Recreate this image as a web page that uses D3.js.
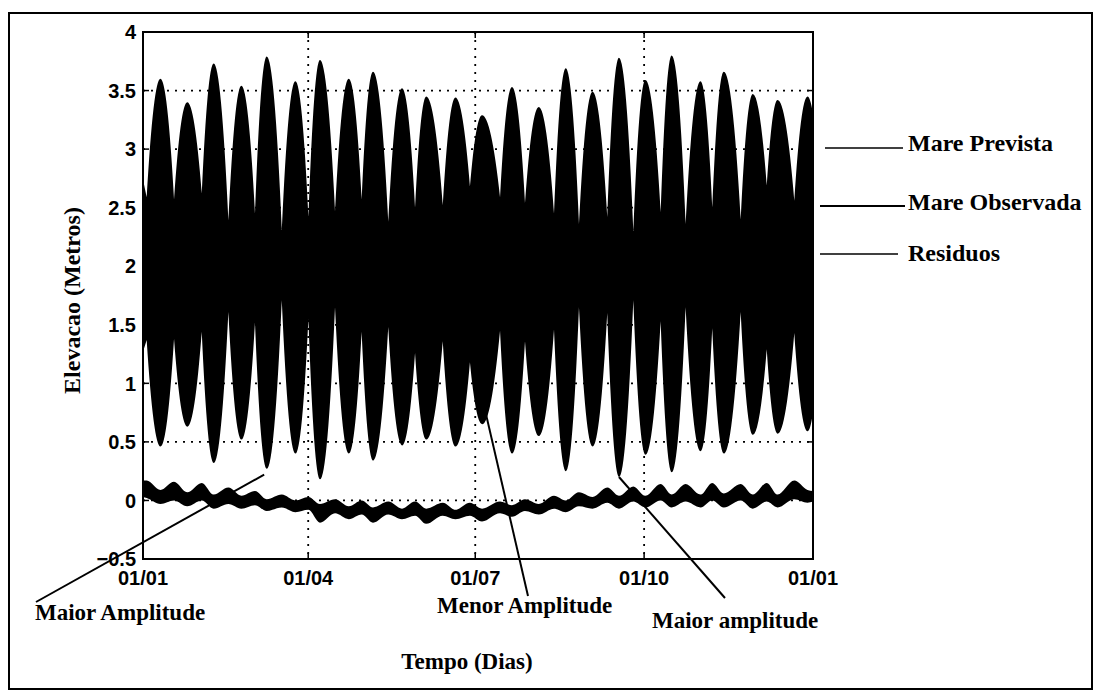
<!DOCTYPE html>
<html>
<head>
<meta charset="utf-8">
<script src="https://cdn.jsdelivr.net/npm/d3@7"></script>
<style>
  body { margin: 0; background: #fff; }
  svg { display: block; }
  .sans  { font-family: "Liberation Sans", Arial, sans-serif; font-weight: bold; }
  .serif { font-family: "Liberation Serif", "Times New Roman", serif; font-weight: bold; }
</style>
</head>
<body>
<svg id="chart" width="1101" height="698"></svg>
<script>
// Tide envelope vertices over one year: day of year at each spring / neap tide
const tideDays = [0, 2.0, 9.5, 16.9, 24.1, 32.0, 38.5, 46.5, 53.6, 61.0, 67.4, 75.6, 83.0,
  90.1, 96.4, 104.6, 112.1, 119.1, 125.3, 133.6, 141.1, 148.2, 154.3, 163.3, 170.2, 178.1,
  184.7, 194.5, 201.0, 208.1, 215.6, 223.9, 230.3, 237.5, 244.9, 252.9, 259.3, 267.1, 273.7,
  282.0, 288.0, 295.6, 303.7, 310.1, 316.4, 325.6, 332.2, 339.8, 345.7, 354.8, 362.0, 365];

// High-water envelope (metres)
const tideHigh = [2.74, 2.59, 3.60, 2.57, 3.40, 2.62, 3.73, 2.39, 3.54, 2.45, 3.79, 2.31, 3.58,
  2.42, 3.76, 2.47, 3.60, 2.57, 3.66, 2.38, 3.52, 2.50, 3.45, 2.52, 3.44, 2.68,
  3.29, 2.59, 3.53, 2.54, 3.36, 2.45, 3.69, 2.36, 3.49, 2.42, 3.78, 2.30, 3.59,
  2.46, 3.80, 2.36, 3.58, 2.50, 3.66, 2.40, 3.47, 2.69, 3.42, 2.56, 3.45, 3.30];

// Low-water envelope (metres)
const tideLow = [1.27, 1.37, 0.46, 1.38, 0.63, 1.44, 0.32, 1.61, 0.52, 1.52, 0.27, 1.71, 0.40,
  1.55, 0.18, 1.65, 0.40, 1.44, 0.34, 1.48, 0.47, 1.26, 0.52, 1.36, 0.46, 1.18,
  0.65, 1.45, 0.40, 1.36, 0.55, 1.46, 0.25, 1.65, 0.46, 1.60, 0.20, 1.71, 0.39,
  1.53, 0.24, 1.65, 0.42, 1.47, 0.40, 1.61, 0.56, 1.29, 0.57, 1.43, 0.59, 0.75];

// Residual band (observed minus predicted), upper and lower edge, same days
const residTop = [0.17, 0.17, 0.09, 0.16, 0.07, 0.15, 0.05, 0.11, 0.04, 0.08, 0.01, 0.05, 0.00,
  0.03, -0.03, 0.01, -0.05, 0.00, -0.06, -0.01, -0.07, -0.01, -0.07, -0.02, -0.08, -0.02,
  -0.07, -0.01, -0.04, 0.01, -0.03, 0.04, 0.00, 0.07, 0.03, 0.11, 0.04, 0.12, 0.04,
  0.14, 0.05, 0.14, 0.05, 0.15, 0.06, 0.14, 0.05, 0.15, 0.05, 0.17, 0.09, 0.08];
const residBottom = [0.03, 0.02, -0.03, 0.00, -0.05, 0.00, -0.07, -0.03, -0.07, -0.04, -0.09, -0.06, -0.10,
  -0.08, -0.19, -0.11, -0.16, -0.12, -0.19, -0.12, -0.16, -0.13, -0.20, -0.13, -0.16, -0.13,
  -0.18, -0.11, -0.14, -0.09, -0.12, -0.07, -0.10, -0.05, -0.07, -0.02, -0.07, -0.01, -0.06,
  0.00, -0.06, -0.01, -0.06, 0.00, -0.06, 0.00, -0.07, -0.01, -0.06, 0.01, -0.02, -0.01];

// Axis ticks
const xTickDays   = [0, 90, 181, 273, 365];
const xTickLabels = ["01/01", "01/04", "01/07", "01/10", "01/01"];
const yTicks      = [-0.5, 0, 0.5, 1, 1.5, 2, 2.5, 3, 3.5, 4];

// Series names written at the right of the axes
const seriesNames = ["Mare Prevista", "Mare Observada", "Residuos"];

// Callouts: text and the tide (day, metres) each one points at
const calloutTexts  = ["Maior Amplitude", "Menor Amplitude", "Maior amplitude"];
const calloutDays   = [66.0, 181.5, 259.3];
const calloutValues = [0.22, 1.10, 0.20];

// ---------------------------------------------------------------------------
const svg = d3.select("#chart");
const plot = { left: 143, right: 813, top: 32, bottom: 559 };

const x = d3.scaleLinear().domain([0, 365]).range([plot.left, plot.right]);
const y = d3.scaleLinear().domain([-0.5, 4]).range([plot.bottom, plot.top]);

// outer figure frame
svg.append("rect")
  .attr("x", 9).attr("y", 13).attr("width", 1083).attr("height", 676)
  .attr("fill", "none").attr("stroke", "#000").attr("stroke-width", 2);

const clipId = "plotClip";
svg.append("clipPath").attr("id", clipId).append("rect")
  .attr("x", plot.left).attr("y", plot.top)
  .attr("width", plot.right - plot.left).attr("height", plot.bottom - plot.top);

// dotted grid
const grid = svg.append("g").attr("stroke", "#000").attr("stroke-width", 1.8)
  .attr("stroke-dasharray", "2,6");
grid.selectAll("line.h").data(yTicks.slice(1, -1)).join("line").attr("class", "h")
  .attr("x1", plot.left).attr("x2", plot.right)
  .attr("y1", d => y(d)).attr("y2", d => y(d));
grid.selectAll("line.v").data(xTickDays.slice(1, -1)).join("line").attr("class", "v")
  .attr("y1", plot.top).attr("y2", plot.bottom)
  .attr("x1", d => x(d)).attr("x2", d => x(d));

// tide band: rounded at spring tides, cusped at neap tides
const n = tideDays.length;
const pts = tideDays.map((d, i) => ({
  x: x(d),
  hi: y(tideHigh[i]),
  lo: y(tideLow[i]),
  spring: i > 0 && i < n - 1 && tideHigh[i] > tideHigh[i - 1] && tideHigh[i] > tideHigh[i + 1]
}));
function segment(p, a, b, key) {
  if (b.spring) p.quadraticCurveTo((a.x + b.x) / 2, b[key], b.x, b[key]);
  else if (a.spring) p.quadraticCurveTo((a.x + b.x) / 2, a[key], b.x, b[key]);
  else p.lineTo(b.x, b[key]);
}
const tidePath = d3.path();
tidePath.moveTo(pts[0].x, pts[0].hi);
for (let i = 1; i < n; i++) segment(tidePath, pts[i - 1], pts[i], "hi");
tidePath.lineTo(pts[n - 1].x, pts[n - 1].lo);
for (let i = n - 2; i >= 0; i--) segment(tidePath, pts[i + 1], pts[i], "lo");
tidePath.closePath();

const data = svg.append("g").attr("clip-path", `url(#${clipId})`);
data.append("path").attr("d", tidePath.toString()).attr("fill", "#000");

// residual band
const resid = tideDays.map((d, i) => ({ d, t: residTop[i], b: residBottom[i] }));
data.append("path")
  .datum(resid)
  .attr("fill", "#000")
  .attr("d", d3.area().x(r => x(r.d)).y0(r => y(r.b)).y1(r => y(r.t)).curve(d3.curveMonotoneX));

// axes box and inward ticks
const axes = svg.append("g").attr("stroke", "#000");
axes.append("rect")
  .attr("x", plot.left).attr("y", plot.top)
  .attr("width", plot.right - plot.left).attr("height", plot.bottom - plot.top)
  .attr("fill", "none").attr("stroke-width", 2);
const tl = 6;
axes.selectAll("line.yl").data(yTicks).join("line").attr("class", "yl")
  .attr("x1", plot.left).attr("x2", plot.left + tl)
  .attr("y1", d => y(d)).attr("y2", d => y(d)).attr("stroke-width", 1.5);
axes.selectAll("line.yr").data(yTicks).join("line").attr("class", "yr")
  .attr("x1", plot.right).attr("x2", plot.right - tl)
  .attr("y1", d => y(d)).attr("y2", d => y(d)).attr("stroke-width", 1.5);
axes.selectAll("line.xb").data(xTickDays).join("line").attr("class", "xb")
  .attr("x1", d => x(d)).attr("x2", d => x(d))
  .attr("y1", plot.bottom).attr("y2", plot.bottom - tl).attr("stroke-width", 1.5);
axes.selectAll("line.xt").data(xTickDays).join("line").attr("class", "xt")
  .attr("x1", d => x(d)).attr("x2", d => x(d))
  .attr("y1", plot.top).attr("y2", plot.top + tl).attr("stroke-width", 1.5);

// tick labels
svg.append("g").attr("class", "sans").attr("font-size", 20).attr("text-anchor", "end")
  .selectAll("text").data(yTicks).join("text")
  .attr("x", plot.left - 7).attr("y", d => y(d)).attr("dy", "0.36em")
  .text(d => d3.format("")(d));
svg.append("g").attr("class", "sans").attr("font-size", 20).attr("text-anchor", "middle")
  .selectAll("text").data(xTickDays).join("text")
  .attr("x", d => x(d)).attr("y", plot.bottom + 26)
  .text((d, i) => xTickLabels[i]);

// axis titles
svg.append("text").attr("class", "serif").attr("font-size", 24)
  .attr("text-anchor", "middle")
  .attr("transform", `translate(80,${(plot.top + plot.bottom) / 2 + 5}) rotate(-90)`)
  .text("Elevacao (Metros)");
svg.append("text").attr("class", "serif").attr("font-size", 23)
  .attr("text-anchor", "middle").attr("x", 467).attr("y", 669)
  .text("Tempo (Dias)");

// series names with leader lines
const nameRows = [
  { x1: 825, x2: 903, ly: 148, ty: 151, w: 1.4 },
  { x1: 820, x2: 905, ly: 206, ty: 210, w: 2.2 },
  { x1: 820, x2: 898, ly: 254, ty: 261, w: 1.4 }
];
const names = svg.append("g");
names.selectAll("line").data(nameRows).join("line")
  .attr("x1", r => r.x1).attr("x2", r => r.x2)
  .attr("y1", r => r.ly).attr("y2", r => r.ly)
  .attr("stroke", "#000").attr("stroke-width", r => r.w);
names.selectAll("text").data(nameRows).join("text")
  .attr("class", "serif").attr("font-size", 24)
  .attr("x", 908).attr("y", r => r.ty)
  .text((r, i) => seriesNames[i]);

// callouts
const calloutLayout = [
  { lx: 36, ly: 602, tx: 35, ty: 620 },
  { lx: 528, ly: 596, tx: 437, ty: 613 },
  { lx: 725, ly: 598, tx: 652, ty: 628 }
];
const callouts = svg.append("g");
callouts.selectAll("line").data(calloutLayout).join("line")
  .attr("x1", (c, i) => x(calloutDays[i])).attr("y1", (c, i) => y(calloutValues[i]))
  .attr("x2", c => c.lx).attr("y2", c => c.ly)
  .attr("stroke", "#000").attr("stroke-width", 2);
callouts.selectAll("text").data(calloutLayout).join("text")
  .attr("class", "serif").attr("font-size", 23)
  .attr("x", c => c.tx).attr("y", c => c.ty)
  .text((c, i) => calloutTexts[i]);
</script>
</body>
</html>
